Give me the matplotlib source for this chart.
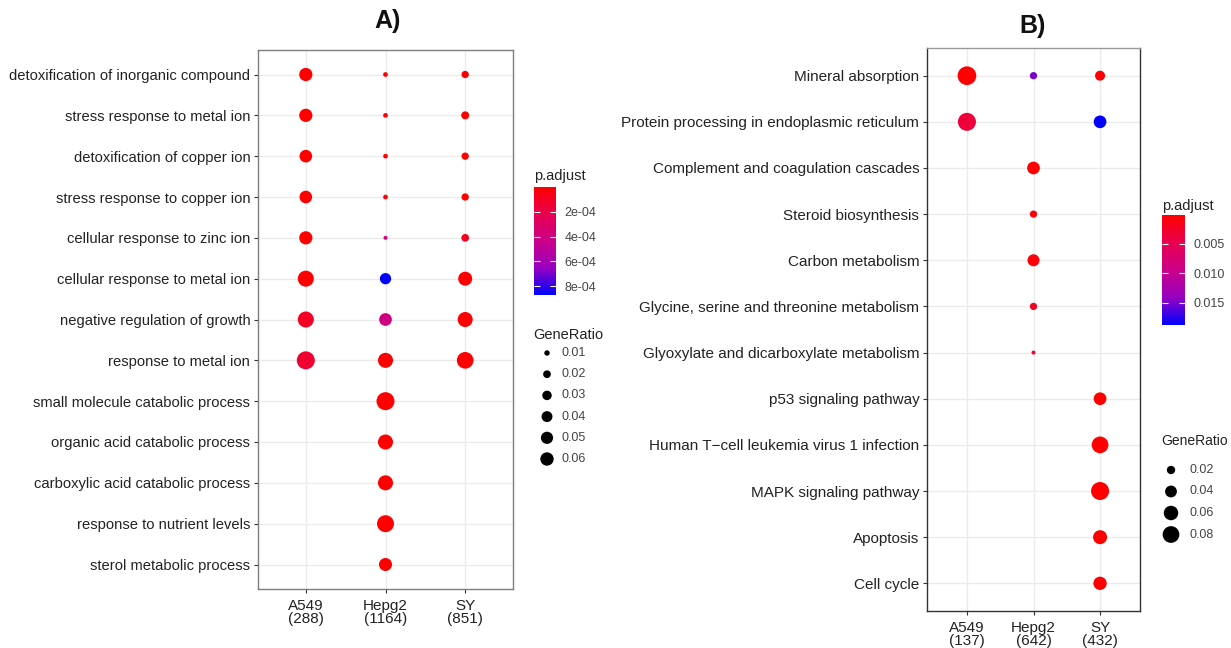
import numpy as np
import matplotlib
matplotlib.use("Agg")
import matplotlib.pyplot as plt
from matplotlib.colors import LinearSegmentedColormap, Normalize
from matplotlib.cm import ScalarMappable

plt.rcParams['font.family'] = ['Liberation Sans', 'DejaVu Sans']

# ---------------- data ----------------
groups_A = ["A549\n(288)", "Hepg2\n(1164)", "SY\n(851)"]
terms_A = [
    "detoxification of inorganic compound",
    "stress response to metal ion",
    "detoxification of copper ion",
    "stress response to copper ion",
    "cellular response to zinc ion",
    "cellular response to metal ion",
    "negative regulation of growth",
    "response to metal ion",
    "small molecule catabolic process",
    "organic acid catabolic process",
    "carboxylic acid catabolic process",
    "response to nutrient levels",
    "sterol metabolic process",
]
# GeneRatio per group (None = not enriched)
ratio_A549_A = [0.034, 0.034, 0.031, 0.031, 0.034, 0.050, 0.050, 0.063, None, None, None, None, None]
ratio_Hepg2_A = [0.0043, 0.0043, 0.0043, 0.0043, 0.0031, 0.0248, 0.0314, 0.044, 0.063, 0.044, 0.044, 0.056, 0.033]
ratio_SY_A = [0.0104, 0.0124, 0.0104, 0.0104, 0.0115, 0.038, 0.044, 0.054, None, None, None, None, None]
padj_A549_A = [2e-6, 2e-6, 3e-6, 3e-6, 5e-6, 1e-5, 1.0e-4, 1.4e-4, None, None, None, None, None]
padj_Hepg2_A = [1e-5, 1e-5, 1.5e-5, 1.5e-5, 3.8e-4, 8.7e-4, 4.0e-4, 1e-5, 1e-6, 1e-6, 1e-6, 1e-6, 1e-6]
padj_SY_A = [3e-6, 3e-6, 4e-6, 4e-6, 7e-5, 1e-5, 1e-5, 1e-5, None, None, None, None, None]
cbar_ticks_A = [2e-4, 4e-4, 6e-4, 8e-4]
cbar_labels_A = ["2e-04", "4e-04", "6e-04", "8e-04"]
size_breaks_A = [0.01, 0.02, 0.03, 0.04, 0.05, 0.06]

groups_B = ["A549\n(137)", "Hepg2\n(642)", "SY\n(432)"]
terms_B = [
    "Mineral absorption",
    "Protein processing in endoplasmic reticulum",
    "Complement and coagulation cascades",
    "Steroid biosynthesis",
    "Carbon metabolism",
    "Glycine, serine and threonine metabolism",
    "Glyoxylate and dicarboxylate metabolism",
    "p53 signaling pathway",
    "Human T\u2212cell leukemia virus 1 infection",
    "MAPK signaling pathway",
    "Apoptosis",
    "Cell cycle",
]
ratio_A549_B = [0.090, 0.0835, None, None, None, None, None, None, None, None, None, None]
ratio_Hepg2_B = [0.0137, None, 0.0416, 0.0137, 0.0371, 0.0137, 0.0041, None, None, None, None, None]
ratio_SY_B = [0.0258, 0.0416, None, None, None, None, None, 0.0416, 0.0719, 0.0835, 0.0505, 0.0456]
padj_A549_B = [1e-4, 0.0036, None, None, None, None, None, None, None, None, None, None]
padj_Hepg2_B = [0.0150, None, 2e-4, 6e-4, 4e-4, 0.0022, 0.0030, None, None, None, None, None]
padj_SY_B = [5e-4, 0.0188, None, None, None, None, None, 1e-4, 1e-4, 1e-4, 1e-4, 1e-4]
cbar_ticks_B = [0.005, 0.010, 0.015]
cbar_labels_B = ["0.005", "0.010", "0.015"]
size_breaks_B = [0.02, 0.04, 0.06, 0.08]

# ---------------- style ----------------
cmap = LinearSegmentedColormap.from_list(
    "redblue", [(0.0, "#FF0000"), (0.25, "#E8004F"), (0.5, "#CA0089"),
                (0.75, "#9700C0"), (1.0, "#0000FF")])

W, H = 1231, 648
fig = plt.figure(figsize=(W / 100, H / 100), dpi=100)

def fbox(x0, y0, x1, y1):
    return [x0 / W, 1 - y1 / H, (x1 - x0) / W, (y1 - y0) / H]

TXT = "#222222"

def panel(rect, groups, terms, ratios, padjs, size_k, fs_y):
    ax = fig.add_axes(rect)
    n = len(terms)
    allp = [p for col in padjs for p in col if p is not None]
    norm = Normalize(vmin=min(allp), vmax=max(allp))
    for gi, (rcol, pcol) in enumerate(zip(ratios, padjs)):
        xs, ys, ss, cs = [], [], [], []
        for ti in range(n):
            if rcol[ti] is None:
                continue
            xs.append(gi)
            ys.append(ti)
            ss.append(size_k * rcol[ti])
            cs.append(pcol[ti])
        ax.scatter(xs, ys, s=ss, c=cs, cmap=cmap, norm=norm, linewidths=0, zorder=3)
    ax.set_xlim(-0.6, len(groups) - 1 + 0.6)
    ax.set_ylim(n - 1 + 0.6, -0.6)
    ax.set_xticks(range(len(groups)))
    ax.set_xticklabels(groups, fontsize=11, color=TXT, linespacing=0.95)
    ax.set_yticks(range(n))
    ax.set_yticklabels(terms, fontsize=fs_y, color=TXT)
    ax.grid(True, color="#EBEBEB", linewidth=1.0, zorder=0)
    ax.set_axisbelow(True)
    ax.tick_params(axis="both", length=3, width=0.8, color="#333333", pad=2.5)
    ax.tick_params(axis="x", pad=4)
    for sp in ax.spines.values():
        sp.set_color("#7F7F7F")
        sp.set_linewidth(1.0)
    return ax, norm

axA, normA = panel(fbox(258, 50, 513, 589), groups_A, terms_A,
                   [ratio_A549_A, ratio_Hepg2_A, ratio_SY_A],
                   [padj_A549_A, padj_Hepg2_A, padj_SY_A], 2663, 10.6)
axB, normB = panel(fbox(927, 48, 1140, 611), groups_B, terms_B,
                   [ratio_A549_B, ratio_Hepg2_B, ratio_SY_B],
                   [padj_A549_B, padj_Hepg2_B, padj_SY_B], 2012, 11)
axB.spines["left"].set_color("#333333")
axB.spines["bottom"].set_color("#333333")
axB.spines["right"].set_color("#333333")
axB.spines["top"].set_color("#999999")

fig.text(388 / W, 1 - 21 / H, "A)", fontsize=18, fontweight="bold", ha="center", va="center", color="#111111")
fig.text(1033 / W, 1 - 26 / H, "B)", fontsize=18, fontweight="bold", ha="center", va="center", color="#111111")

def colorbar(rect, norm, ticks, labels):
    cax = fig.add_axes(rect)
    cb = fig.colorbar(ScalarMappable(norm=norm, cmap=cmap), cax=cax)
    cb.outline.set_visible(False)
    cax.invert_yaxis()
    cb.set_ticks(ticks)
    cb.set_ticklabels(labels)
    cax.tick_params(axis="y", direction="in", length=4, width=0.8, color="white",
                    left=True, right=True, labelsize=9, labelcolor="#444444", pad=6)
    return cb

colorbar(fbox(534, 187, 556, 295), normA, cbar_ticks_A, cbar_labels_A)
colorbar(fbox(1162, 215, 1185, 325), normB, cbar_ticks_B, cbar_labels_B)

fig.text(534 / W, 1 - 176 / H, "p.adjust", fontsize=10.5, ha="left", va="center", color="#222222")
fig.text(1162 / W, 1 - 206 / H, "p.adjust", fontsize=10.5, ha="left", va="center", color="#222222")
fig.text(533 / W, 1 - 335 / H, "GeneRatio", fontsize=10.5, ha="left", va="center", color="#222222")
fig.text(1161 / W, 1 - 441 / H, "GeneRatio", fontsize=10, ha="left", va="center", color="#222222")

# size legends (overlay axes in pixel coordinates)
lax = fig.add_axes([0, 0, 1, 1])
lax.set_xlim(0, W)
lax.set_ylim(H, 0)
lax.axis("off")

def size_legend(x, y0, dy, breaks, size_k, scale, xt):
    ys = [y0 + i * dy for i in range(len(breaks))]
    lax.scatter([x] * len(breaks), ys, s=[size_k * scale * b for b in breaks],
                color="black", linewidths=0)
    for yy, b in zip(ys, breaks):
        lax.text(xt, yy, f"{b:.2f}", fontsize=9, color="#444444", ha="left", va="center")

size_legend(547, 353, 21.2, size_breaks_A, 2663, 0.58, 562)
size_legend(1171, 470, 21.5, size_breaks_B, 2012, 0.9, 1190)

fig.savefig("out.png", dpi=100)
